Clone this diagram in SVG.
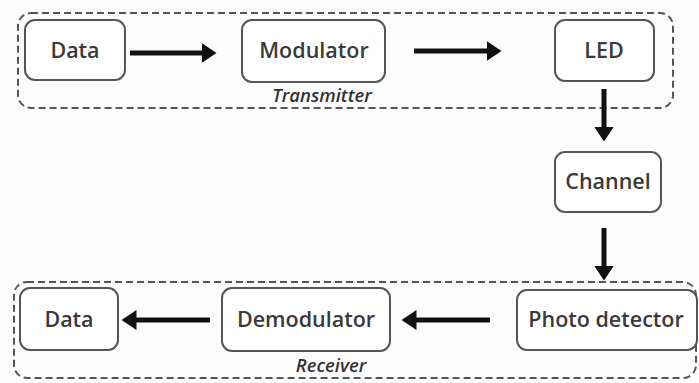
<svg xmlns="http://www.w3.org/2000/svg" width="699" height="383" viewBox="0 0 699 383">
<defs>
<style>
.grp{fill:none;stroke:#555;stroke-width:2;stroke-dasharray:7 4}
.box{fill:#fff;stroke:#555;stroke-width:2}
.lbl{font-family:"Open Sans","Liberation Sans",sans-serif;font-weight:600;font-size:21.5px;fill:#3a3a3a;text-anchor:middle}
.cap{font-family:"Open Sans","Liberation Sans",sans-serif;font-style:italic;font-weight:600;font-size:18.5px;fill:#333;text-anchor:middle}
.conn{stroke:#111;stroke-width:5;fill:none}
</style>
<marker id="ah" markerWidth="4" markerHeight="4" refX="1.5" refY="2" orient="auto" markerUnits="strokeWidth">
<path d="M0,0 L3,2 L0,4 Z" fill="#111"/>
</marker>
</defs>
<rect width="699" height="383" fill="#fcfcfc"/>
<g id="transmitter">
<rect class="grp" x="18" y="13" width="655" height="95" rx="13"/>
<text class="cap" x="322" y="102">Transmitter</text>
</g>
<g id="receiver">
<rect class="grp" x="14" y="282" width="682" height="96" rx="13"/>
<text class="cap" x="331" y="372">Receiver</text>
</g>
<g id="data-tx">
<rect class="box" x="25" y="20" width="100" height="60" rx="10"/>
<text class="lbl" x="75" y="58">Data</text>
</g>
<g id="modulator">
<rect class="box" x="242" y="20" width="143" height="62" rx="10"/>
<text class="lbl" x="314" y="58">Modulator</text>
</g>
<g id="led">
<rect class="box" x="555" y="20" width="99" height="61" rx="10"/>
<text class="lbl" x="604" y="58">LED</text>
</g>
<g id="channel">
<rect class="box" x="555" y="152" width="106" height="60" rx="10"/>
<text class="lbl" x="608" y="189">Channel</text>
</g>
<g id="photo-detector">
<rect class="box" x="517" y="290" width="180" height="60" rx="10"/>
<text class="lbl" x="606" y="327">Photo detector</text>
</g>
<g id="demodulator">
<rect class="box" x="222" y="288" width="168" height="63" rx="10"/>
<text class="lbl" x="306" y="327">Demodulator</text>
</g>
<g id="data-rx">
<rect class="box" x="20" y="288" width="98" height="62" rx="10"/>
<text class="lbl" x="69" y="327">Data</text>
</g>
<g id="connectors">
<line class="conn" x1="130" y1="53" x2="209" y2="53" marker-end="url(#ah)"/>
<line class="conn" x1="414" y1="51" x2="494" y2="51" marker-end="url(#ah)"/>
<line class="conn" x1="604" y1="89" x2="604" y2="134" marker-end="url(#ah)"/>
<line class="conn" x1="604" y1="228" x2="604" y2="273" marker-end="url(#ah)"/>
<line class="conn" x1="490" y1="320" x2="409" y2="320" marker-end="url(#ah)"/>
<line class="conn" x1="210" y1="320" x2="129" y2="320" marker-end="url(#ah)"/>
</g>
</svg>
